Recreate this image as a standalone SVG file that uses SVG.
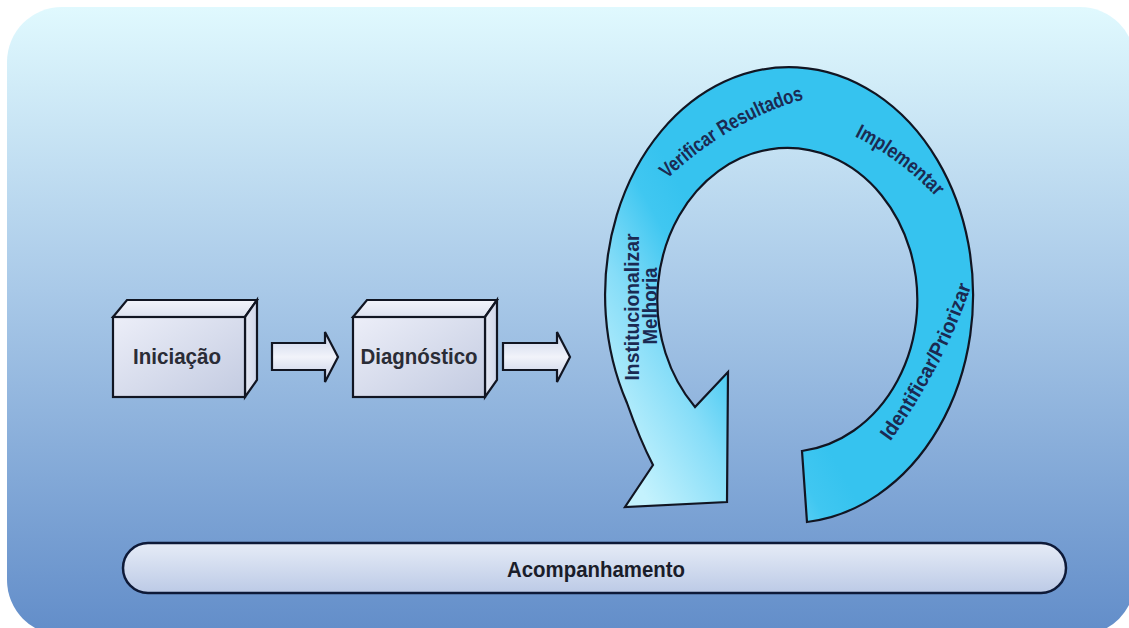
<svg xmlns="http://www.w3.org/2000/svg" width="1129" height="628" viewBox="0 0 1129 628">
  <defs>
    <linearGradient id="bg" x1="0" y1="0" x2="0" y2="1">
      <stop offset="0" stop-color="#e0f9fe"/>
      <stop offset="0.45" stop-color="#a9c9e8"/>
      <stop offset="1" stop-color="#628dc9"/>
    </linearGradient>
    <linearGradient id="front" x1="0" y1="0" x2="1" y2="1">
      <stop offset="0" stop-color="#eceef8"/>
      <stop offset="1" stop-color="#c3cbe1"/>
    </linearGradient>
    <linearGradient id="topface" x1="0" y1="0" x2="0" y2="1">
      <stop offset="0" stop-color="#f2f4fb"/>
      <stop offset="1" stop-color="#dde2f0"/>
    </linearGradient>
    <linearGradient id="side" x1="0" y1="0" x2="1" y2="0">
      <stop offset="0" stop-color="#e6e9f4"/>
      <stop offset="1" stop-color="#cfd6ea"/>
    </linearGradient>
    <linearGradient id="arrowfill" x1="0" y1="0" x2="0" y2="1">
      <stop offset="0" stop-color="#c9d2ea"/>
      <stop offset="0.5" stop-color="#f1f3fa"/>
      <stop offset="1" stop-color="#c4cde6"/>
    </linearGradient>
    <linearGradient id="cycle" gradientUnits="userSpaceOnUse" x1="630" y1="470" x2="790" y2="380">
      <stop offset="0" stop-color="#c4f2fd"/>
      <stop offset="0.45" stop-color="#86ddf8"/>
      <stop offset="0.8" stop-color="#40c7f1"/>
      <stop offset="1" stop-color="#36c3ef"/>
    </linearGradient>
    <linearGradient id="bar" x1="0" y1="0" x2="0" y2="1">
      <stop offset="0" stop-color="#e6ecf7"/>
      <stop offset="1" stop-color="#bccae6"/>
    </linearGradient>
    <path id="arcVerif" d="M 666 180 Q 730 120 805 99"/>
    <path id="arcImpl" d="M 852 135 Q 901 159 938 199"/>
    <path id="arcRight" d="M 887 446 Q 943 370 973 281"/>
  </defs>
  <style>
    .edge { stroke: #111522; stroke-width: 2.2; stroke-linejoin: miter; }
    .box-label { font-family: "Liberation Sans", Arial, sans-serif; font-weight: bold; font-size: 22px; fill: #2a2c36; text-anchor: middle; }
    .cyc-label { font-family: "Liberation Sans", Arial, sans-serif; font-weight: bold; font-size: 20.5px; fill: #1b2a52; }
    .bar-label { font-family: "Liberation Sans", Arial, sans-serif; font-weight: bold; font-size: 22px; fill: #1a1d2a; text-anchor: middle; }
  </style>

  <rect id="background" x="7" y="7" width="1128" height="628" rx="55" ry="55" fill="url(#bg)"/>

  <g id="node-iniciacao">
    <polygon class="edge" points="113,317 127,300 257,300 245,317" fill="url(#topface)"/>
    <polygon class="edge" points="245,317 257,300 257,380 245,397" fill="url(#side)"/>
    <rect class="edge" x="113" y="317" width="132" height="80" fill="url(#front)"/>
    <text class="box-label" x="177" y="364" textLength="88" lengthAdjust="spacingAndGlyphs">Iniciação</text>
  </g>

  <g id="node-diagnostico">
    <polygon class="edge" points="353,317 367,300 497,300 485,317" fill="url(#topface)"/>
    <polygon class="edge" points="485,317 497,300 497,380 485,397" fill="url(#side)"/>
    <rect class="edge" x="353" y="317" width="132" height="80" fill="url(#front)"/>
    <text class="box-label" x="419" y="364" textLength="117" lengthAdjust="spacingAndGlyphs">Diagnóstico</text>
  </g>

  <g id="connectors">
    <polygon class="edge" points="272,343 325,343 325,332 338,357 325,382 325,370 272,370" fill="url(#arrowfill)"/>
    <polygon class="edge" points="503,343 557,343 557,332 570,357 557,382 557,370 503,370" fill="url(#arrowfill)"/>
  </g>

  <g id="node-ciclo">
    <path class="edge" stroke-width="2.5" fill="url(#cycle)"
      d="M 807 522 A 184 228 0 1 0 627 403 Q 640 440 653 465 L 625 507 L 727 502 L 728 372 L 695 407 A 130 152 0 1 1 802 451 Z"/>
    <text class="cyc-label"><textPath href="#arcVerif" startOffset="50%" text-anchor="middle" textLength="160" lengthAdjust="spacingAndGlyphs">Verificar Resultados</textPath></text>
    <text class="cyc-label"><textPath href="#arcImpl" startOffset="50%" text-anchor="middle" textLength="102" lengthAdjust="spacingAndGlyphs">Implementar</textPath></text>
    <text class="cyc-label"><textPath href="#arcRight" startOffset="50%" text-anchor="middle" textLength="176" lengthAdjust="spacingAndGlyphs">Identificar/Priorizar</textPath></text>
    <text class="cyc-label" font-size="20" text-anchor="middle" textLength="147" lengthAdjust="spacingAndGlyphs" transform="translate(639,307) rotate(-90)">Institucionalizar</text>
    <text class="cyc-label" font-size="20" text-anchor="middle" textLength="77" lengthAdjust="spacingAndGlyphs" transform="translate(657,306) rotate(-90)">Melhoria</text>
  </g>

  <g id="node-acompanhamento">
    <rect x="123" y="543" width="943" height="50" rx="25" ry="25" fill="url(#bar)" stroke="#0e1a38" stroke-width="2.5"/>
    <text class="bar-label" x="596" y="577" textLength="178" lengthAdjust="spacingAndGlyphs">Acompanhamento</text>
  </g>
</svg>
